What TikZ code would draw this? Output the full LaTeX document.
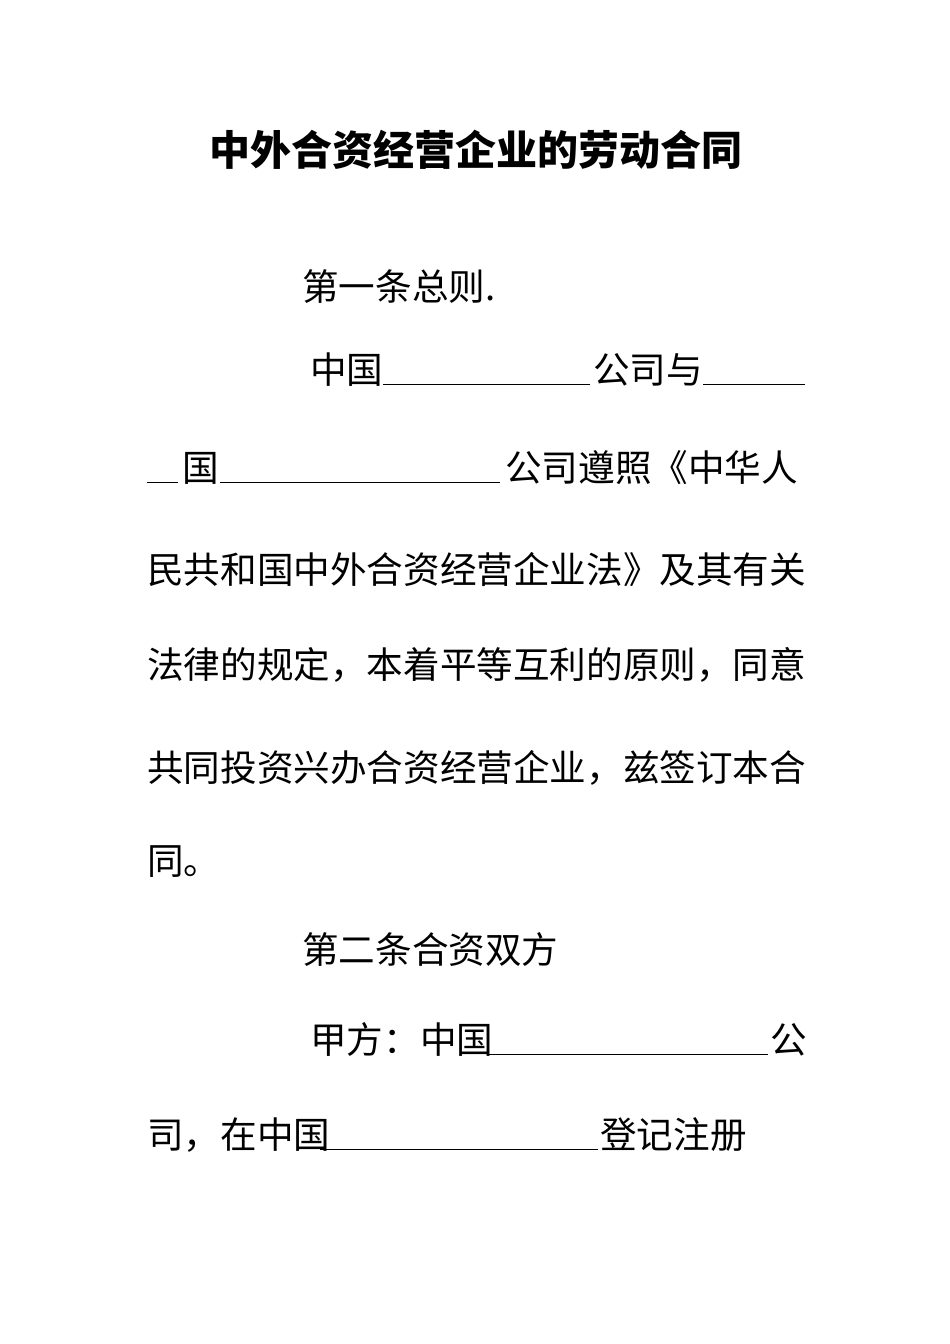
\documentclass[tikz,border=0pt]{standalone}
\usepackage{fontspec}
\newfontfamily\cjk{Noto Sans CJK SC}
\begin{document}
\begin{tikzpicture}[x=1pt,y=-1pt,
  txt/.style={anchor=west,inner sep=0pt,font=\cjk\fontsize{36.6}{36.6}\selectfont},
  blank/.style={line width=1pt}]
\useasboundingbox[fill=white] (0,0) rectangle (950,1344);
\node[font=\cjk\bfseries\fontsize{41}{41}\selectfont,inner sep=0pt] (title) at (476,150) {中外合资经营企业的劳动合同};
\node[txt] (l1) at (302,287) {第一条总则.};
\node[txt] (l2a) at (310,370) {中国};
\node[txt] (l2b) at (593,370) {公司与};
\node[txt] (l3a) at (182,468) {国};
\node[txt] (l3b) at (505,468) {公司遵照《中华人};
\node[txt] (l4) at (147,570) {民共和国中外合资经营企业法》及其有关};
\node[txt] (l5) at (147,665) {法律的规定，本着平等互利的原则，同意};
\node[txt] (l6) at (147,768) {共同投资兴办合资经营企业，兹签订本合};
\node[txt] (l7) at (147,862) {同。};
\node[txt] (l8) at (302,950) {第二条合资双方};
\node[txt] (l9a) at (310,1040) {甲方：中国};
\node[txt] (l9b) at (770,1040) {公};
\node[txt] (l10a) at (147,1135) {司，在中国};
\node[txt] (l10b) at (600,1135) {登记注册};
\draw[blank] (383,384) -- (590,384);
\draw[blank] (703,384) -- (805,384);
\draw[blank] (147,482) -- (178,482);
\draw[blank] (220,482) -- (500,482);
\draw[blank] (487,1054) -- (768,1054);
\draw[blank] (320,1149) -- (598,1149);
\end{tikzpicture}
\end{document}
